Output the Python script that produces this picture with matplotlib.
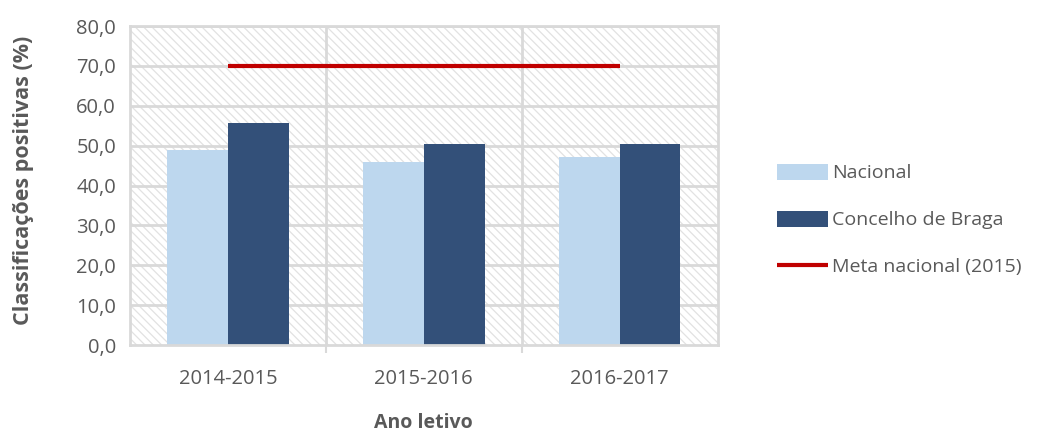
import numpy as np
import matplotlib.pyplot as plt
from matplotlib.patches import Rectangle

# Data
anos = ['2014-2015', '2015-2016', '2016-2017']
nacional = [48.8, 45.9, 47.1]
braga = [55.8, 50.3, 50.5]
meta = [70.0, 70.0, 70.0]

plt.rcParams['font.family'] = ['Open Sans', 'DejaVu Sans']
plt.rcParams['hatch.linewidth'] = 0.9
grey_txt = '#595959'
grid_col = '#d9d9d9'

fig = plt.figure(figsize=(10.4, 4.34), dpi=100)
ax = fig.add_axes([0.125, 0.205, 0.565, 0.735])

x = np.arange(len(anos))
w = 0.31

# hatched plot area background
ax.add_patch(Rectangle((0, 0), 1, 1, transform=ax.transAxes, facecolor='white',
                       edgecolor='#e2e2e2', linewidth=0, hatch='\\\\\\\\', zorder=0))

b1 = ax.bar(x - w / 2, nacional, w, color='#bdd7ee', label='Nacional', zorder=3)
b2 = ax.bar(x + w / 2, braga, w, color='#335079', label='Concelho de Braga', zorder=3)
l1, = ax.plot(x, meta, color='#c00000', lw=3, label='Meta nacional (2015)', zorder=4,
              solid_capstyle='butt')

ax.set_xlim(-0.5, 2.5)
ax.set_ylim(0, 80)
ax.set_yticks(np.arange(0, 81, 10))
ax.set_yticklabels([f'{v:.1f}'.replace('.', ',') for v in np.arange(0, 81, 10)])
ax.set_xticks(x)
ax.set_xticklabels(anos)
ax.set_xticks([0.5, 1.5], minor=True)

# gridlines: horizontal at major y, vertical between categories
for yv in np.arange(10, 81, 10):
    ax.axhline(yv, color=grid_col, lw=2, zorder=1)
for xv in [0.5, 1.5]:
    ax.axvline(xv, color=grid_col, lw=2, zorder=1)

for s in ax.spines.values():
    s.set_color(grid_col)
    s.set_linewidth(2)
ax.spines['bottom'].set_zorder(5)

ax.tick_params(axis='y', length=0, labelsize=14.5, labelcolor=grey_txt, pad=10)
ax.tick_params(axis='x', which='major', length=0, labelsize=14.5, labelcolor=grey_txt, pad=17)
ax.tick_params(axis='x', which='minor', length=6, width=1.5, color=grid_col)

ax.set_ylabel('Classificações positivas (%)', fontsize=15.5, fontweight='bold',
              color=grey_txt, va='center')
ax.yaxis.set_label_coords(-0.182, 0.515)
ax.set_xlabel('Ano letivo', fontsize=14, fontweight='bold', color=grey_txt, va='center')
ax.xaxis.set_label_coords(0.5, -0.245)

fig.legend([b1, b2, l1], ['Nacional', 'Concelho de Braga', 'Meta nacional (2015)'],
           loc='center left', bbox_to_anchor=(0.738, 0.493), frameon=False,
           fontsize=14, labelcolor=grey_txt, handlelength=2.6, handleheight=0.9,
           handletextpad=0.2, labelspacing=1.45, borderpad=0)

fig.savefig('out.png', dpi=100)
